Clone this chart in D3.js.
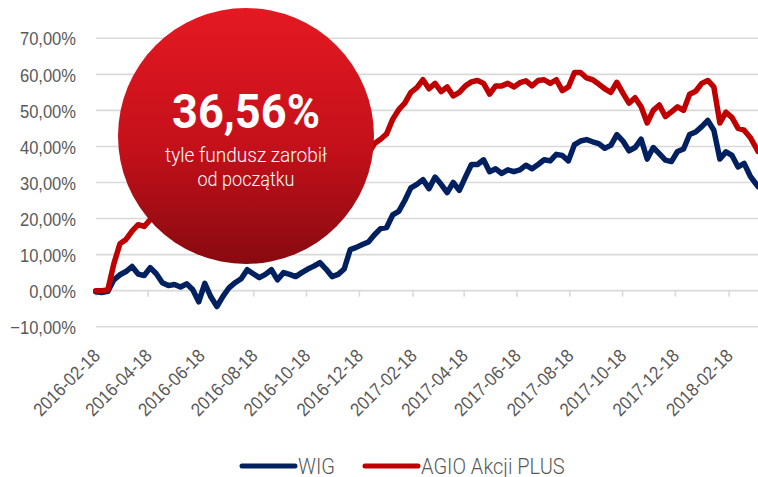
<!DOCTYPE html>
<html lang="pl">
<head>
<meta charset="utf-8">
<title>AGIO Akcji PLUS vs WIG</title>
<script src="https://cdn.jsdelivr.net/npm/d3@7"></script>
<style>
  body { margin: 0; background: #fff; }
  svg { display: block; font-family: Roboto, "Open Sans", sans-serif; }
  .lbl { fill: #595959; font-weight: 300; }
</style>
</head>
<body>
<script>
// weekly closes, % change since 2016-02-18
var dates = ["2016-02-18","2016-02-25","2016-03-03","2016-03-10","2016-03-17","2016-03-24","2016-03-31","2016-04-07","2016-04-14","2016-04-21","2016-04-28","2016-05-05","2016-05-12","2016-05-19","2016-05-26","2016-06-02","2016-06-09","2016-06-16","2016-06-23","2016-06-30","2016-07-07","2016-07-14","2016-07-21","2016-07-28","2016-08-04","2016-08-11","2016-08-18","2016-08-25","2016-09-01","2016-09-08","2016-09-15","2016-09-22","2016-09-29","2016-10-06","2016-10-13","2016-10-20","2016-10-27","2016-11-03","2016-11-10","2016-11-17","2016-11-24","2016-12-01","2016-12-08","2016-12-15","2016-12-22","2016-12-29","2017-01-05","2017-01-12","2017-01-19","2017-01-26","2017-02-02","2017-02-09","2017-02-16","2017-02-23","2017-03-02","2017-03-09","2017-03-16","2017-03-23","2017-03-30","2017-04-06","2017-04-13","2017-04-20","2017-04-27","2017-05-04","2017-05-11","2017-05-18","2017-05-25","2017-06-01","2017-06-08","2017-06-15","2017-06-22","2017-06-29","2017-07-06","2017-07-13","2017-07-20","2017-07-27","2017-08-03","2017-08-10","2017-08-17","2017-08-24","2017-08-31","2017-09-07","2017-09-14","2017-09-21","2017-09-28","2017-10-05","2017-10-12","2017-10-19","2017-10-26","2017-11-02","2017-11-09","2017-11-16","2017-11-23","2017-11-30","2017-12-07","2017-12-14","2017-12-21","2017-12-28","2018-01-04","2018-01-11","2018-01-18","2018-01-25","2018-02-01","2018-02-08","2018-02-15","2018-02-22","2018-03-01","2018-03-08","2018-03-15","2018-03-22","2018-03-24"];

var wig = [-0.3,-0.5,-0.2,3.0,4.4,5.3,6.7,4.6,4.2,6.4,
  4.7,2.2,1.4,1.7,1.0,1.9,0.3,-3.1,2.0,-1.7,
  -4.4,-1.6,0.8,2.2,3.3,5.8,4.7,3.6,4.5,5.8,
  3.0,5.0,4.5,3.9,5.0,6.0,6.8,7.8,6.0,3.9,
  4.5,6.0,11.4,12.0,12.8,13.5,15.5,17.2,17.5,21.0,
  22.0,25.0,28.5,29.5,30.8,28.3,31.5,29.5,27.2,30.0,
  27.8,31.5,35.0,35.0,36.3,33.0,33.8,32.5,33.5,33.0,
  33.5,34.8,33.8,35.0,36.3,36.0,37.8,37.5,36.0,40.5,
  41.5,41.9,41.3,40.8,39.5,40.3,43.3,41.5,38.8,39.7,
  42.0,36.5,39.7,38.0,36.2,35.8,38.6,39.3,43.3,44.0,
  45.5,47.2,44.5,36.5,38.5,37.5,34.3,35.3,31.8,29.5,
  28.9];

var agio = [0,0,0.2,7.5,13.0,14.2,16.5,18.3,17.8,19.7,
  20.5,20.0,21.5,22.0,21.0,22.5,21.5,18.5,20.0,17.5,
  16.5,18.5,20.5,22.0,23.5,25.0,24.5,25.5,27.0,26.5,
  25.5,27.5,28.5,28.0,29.5,31.0,30.5,32.0,31.0,30.0,
  31.5,33.0,34.5,36.5,37.5,38.0,40.8,42.0,43.5,47.5,
  50.2,52.0,55.0,56.3,58.5,56.0,57.5,55.2,56.5,54.0,
  55.0,56.8,57.9,58.3,57.5,54.5,56.8,56.8,57.5,56.5,
  57.7,58.2,56.8,58.3,58.5,57.5,58.5,55.5,56.5,60.5,
  60.5,59.0,58.5,57.3,56.0,55.0,57.8,54.8,52.0,53.5,
  51.0,46.5,50.0,51.5,48.3,49.6,51.0,50.0,54.5,55.3,
  57.5,58.3,56.5,46.5,49.5,48.0,45.0,44.5,42.5,39.5,
  38.6];

var xTicks = ["2016-02-18","2016-04-18","2016-06-18","2016-08-18","2016-10-18","2016-12-18","2017-02-18","2017-04-18","2017-06-18","2017-08-18","2017-10-18","2017-12-18","2018-02-18"];
var yTicks = [-10, 0, 10, 20, 30, 40, 50, 60, 70];

var seriesNames = ["WIG", "AGIO Akcji PLUS"];
var seriesColors = ["#002060", "#c00000"];

var w = 758, h = 477;
var parse = d3.utcParse("%Y-%m-%d");

var x = d3.scaleUtc()
  .domain([parse("2016-02-18"), parse("2018-03-24")])
  .range([95.7, 758]);
var y = d3.scaleLinear().domain([-10, 70]).range([326.7, 38.3]);

var svg = d3.select("body").append("svg")
  .attr("width", w).attr("height", h);

// squeeze text a bit, the original font is narrower
function squeeze(sel, k) {
  sel.each(function() {
    var len = this.getComputedTextLength();
    d3.select(this).attr("textLength", len * k).attr("lengthAdjust", "spacingAndGlyphs");
  });
}

// gridlines
svg.append("g").selectAll("line")
  .data(yTicks)
  .join("line")
  .attr("x1", 96).attr("x2", w)
  .attr("y1", d => y(d)).attr("y2", d => y(d))
  .attr("stroke", "#d9d9d9").attr("stroke-width", 1.6);

// y labels
var yAxis = svg.append("g")
  .attr("transform", "translate(76,0)")
  .call(d3.axisLeft(y).tickValues(yTicks).tickSize(0).tickPadding(0)
    .tickFormat(d => d3.format(".2f")(d).replace(".", ",") + "%"));
yAxis.select(".domain").remove();
yAxis.selectAll("text").attr("class", "lbl")
  .style("font-size", "19px").attr("dy", "0.35em");
squeeze(yAxis.selectAll("text"), 0.87);

// x axis on the 0% line
var y0 = y(0);
var xAxis = svg.append("g")
  .attr("transform", "translate(0," + y0 + ")")
  .call(d3.axisBottom(x).tickValues(xTicks.map(parse)).tickSize(6)
    .tickFormat(d3.utcFormat("%Y-%m-%d")));
xAxis.select(".domain").remove();
xAxis.selectAll("line").attr("stroke", "#d9d9d9").attr("stroke-width", 1.6);
xAxis.selectAll("text").attr("class", "lbl")
  .style("font-size", "18.5px")
  .attr("y", 0).attr("dy", 0)
  .attr("text-anchor", "end")
  .attr("transform", "translate(5," + (357 - y0) + ") rotate(-45)");
squeeze(xAxis.selectAll("text"), 0.9);

// lines
var line = d3.line()
  .x((d, i) => x(parse(dates[i])))
  .y(d => y(d))
  .curve(d3.curveLinear);

[wig, agio].forEach(function(vals, s) {
  svg.append("path")
    .datum(vals)
    .attr("d", line)
    .attr("fill", "none")
    .attr("stroke", seriesColors[s])
    .attr("stroke-width", 5.5)
    .attr("stroke-linejoin", "round")
    .attr("stroke-linecap", "round");
});

// red bubble
var defs = svg.append("defs");
var grad = defs.append("linearGradient").attr("id", "bubble")
  .attr("x1", 0).attr("y1", 0).attr("x2", 0).attr("y2", 1);
grad.append("stop").attr("offset", "0%").attr("stop-color", "#e41922");
grad.append("stop").attr("offset", "55%").attr("stop-color", "#c4101a");
grad.append("stop").attr("offset", "100%").attr("stop-color", "#880a10");

var cx = 246, cy = 136;
svg.append("circle")
  .attr("cx", cx).attr("cy", cy).attr("r", 128)
  .attr("fill", "url(#bubble)");

svg.append("text")
  .attr("x", cx).attr("y", 128)
  .attr("text-anchor", "middle")
  .attr("fill", "#fff")
  .style("font-size", "49px").style("font-weight", 700)
  .text("36,56%")
  .attr("textLength", 148).attr("lengthAdjust", "spacingAndGlyphs");

svg.append("text")
  .attr("x", cx).attr("y", 162)
  .attr("text-anchor", "middle").attr("fill", "#fff")
  .style("font-size", "20px").style("font-weight", 300)
  .text("tyle fundusz zarobił")
  .attr("textLength", 162).attr("lengthAdjust", "spacingAndGlyphs");

svg.append("text")
  .attr("x", cx).attr("y", 186)
  .attr("text-anchor", "middle").attr("fill", "#fff")
  .style("font-size", "20px").style("font-weight", 300)
  .text("od początku")
  .attr("textLength", 97).attr("lengthAdjust", "spacingAndGlyphs");

// legend
var legX = [240, 363];
var legend = svg.append("g").selectAll("g")
  .data(seriesNames)
  .join("g")
  .attr("transform", (d, i) => "translate(" + legX[i] + ",466)");
legend.append("line")
  .attr("x1", 2).attr("x2", 55)
  .attr("stroke", (d, i) => seriesColors[i])
  .attr("stroke-width", 5).attr("stroke-linecap", "round");
var legText = legend.append("text")
  .attr("class", "lbl")
  .attr("x", 58).attr("y", 7.5)
  .style("font-size", "22px")
  .text(d => d);
squeeze(legText, 0.91);
</script>
</body>
</html>
